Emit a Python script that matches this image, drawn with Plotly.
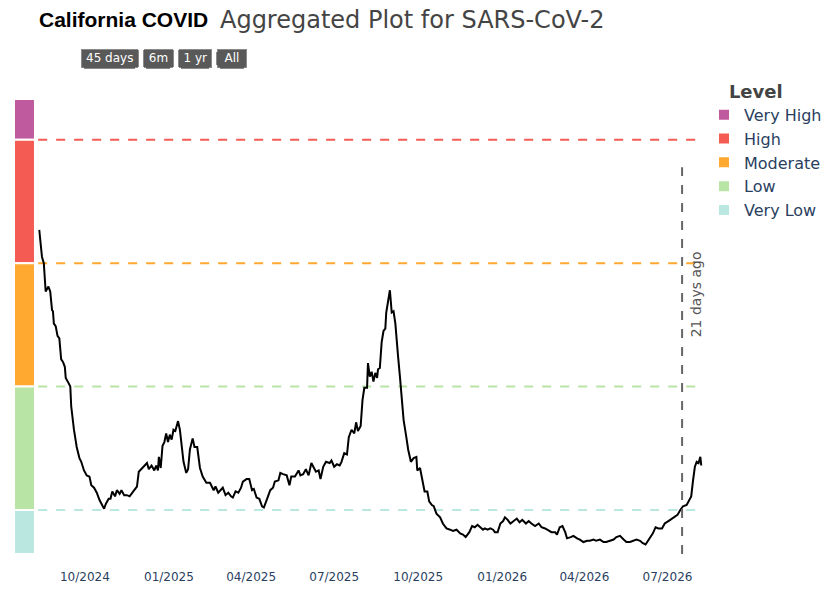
import plotly.graph_objects as go
import pandas as pd

# daily level index (days counted from START_DATE)
START_DATE = "2024-10-01"
DAY_OFFSETS = [
    -50, -47, -45, -44, -43, -40, -38, -36, -35, -34,
    -32, -30, -28, -26, -24, -22, -21, -18, -16, -15,
    -13, -12, -9, -6, -4, -1, 2, 5, 7, 10,
    13, 16, 21, 23, 26, 28, 30, 33, 35, 38,
    40, 43, 46, 49, 53, 57, 59, 64, 68, 70,
    73, 76, 78, 80, 81, 83, 85, 87, 89, 91,
    93, 95, 97, 99, 102, 104, 106, 108, 111, 113,
    115, 118, 120, 123, 126, 129, 133, 137, 141, 143,
    146, 149, 151, 154, 157, 160, 162, 165, 168, 171,
    173, 177, 180, 183, 185, 188, 191, 194, 196, 199,
    203, 206, 208, 212, 214, 217, 221, 224, 226, 230,
    234, 236, 239, 242, 245, 248, 250, 253, 256, 258,
    261, 264, 268, 270, 273, 276, 279, 281, 284, 287,
    289, 292, 295, 297, 299, 302, 304, 306, 309, 310,
    312, 314, 316, 318, 320, 321, 323, 325, 327, 329,
    330, 332, 334, 336, 338, 340, 341, 343, 345, 347,
    349, 352, 354, 357, 360, 363, 364, 367, 370, 372,
    375, 377, 380, 382, 385, 389, 392, 396, 400, 403,
    407, 411, 414, 417, 421, 424, 427, 430, 433, 436,
    438, 441, 444, 447, 449, 452, 455, 458, 460, 463,
    466, 469, 473, 476, 479, 483, 486, 489, 493, 497,
    500, 504, 507, 511, 515, 517, 520, 523, 526, 528,
    532, 535, 539, 542, 546, 550, 553, 557, 560, 564,
    568, 571, 575, 579, 582, 586, 590, 593, 597, 601,
    604, 608, 611, 614, 618, 622, 625, 628, 632, 635,
    639, 643, 646, 649, 652, 655, 659, 662, 664, 666,
    668, 670, 672, 674, 675,
]
LEVEL_VALUES = [
    3.27, 3.05, 3.00, 2.81, 2.77, 2.81, 2.77, 2.62, 2.61, 2.51,
    2.49, 2.41, 2.39, 2.22, 2.20, 2.16, 2.07, 2.03, 2.00, 1.84,
    1.69, 1.65, 1.51, 1.42, 1.39, 1.32, 1.28, 1.27, 1.20, 1.18,
    1.14, 1.08, 1.01, 1.05, 1.09, 1.09, 1.15, 1.11, 1.16, 1.13,
    1.16, 1.12, 1.12, 1.11, 1.15, 1.19, 1.31, 1.35, 1.38, 1.33,
    1.36, 1.32, 1.36, 1.32, 1.43, 1.34, 1.52, 1.55, 1.62, 1.55,
    1.61, 1.57, 1.65, 1.64, 1.72, 1.65, 1.51, 1.39, 1.30, 1.33,
    1.49, 1.58, 1.51, 1.51, 1.34, 1.27, 1.22, 1.22, 1.16, 1.19,
    1.14, 1.17, 1.18, 1.12, 1.14, 1.11, 1.10, 1.15, 1.14, 1.18,
    1.23, 1.25, 1.25, 1.16, 1.17, 1.10, 1.09, 1.03, 1.02, 1.08,
    1.16, 1.18, 1.23, 1.24, 1.30, 1.29, 1.28, 1.20, 1.27, 1.27,
    1.32, 1.28, 1.29, 1.33, 1.28, 1.38, 1.35, 1.31, 1.32, 1.25,
    1.35, 1.39, 1.38, 1.40, 1.35, 1.37, 1.36, 1.39, 1.46, 1.45,
    1.59, 1.65, 1.62, 1.71, 1.64, 1.68, 1.89, 1.99, 1.99, 2.19,
    2.08, 2.12, 2.04, 2.11, 2.07, 2.14, 2.15, 2.36, 2.45, 2.47,
    2.60, 2.70, 2.78, 2.60, 2.61, 2.51, 2.39, 2.24, 2.08, 1.89,
    1.73, 1.59, 1.49, 1.39, 1.42, 1.43, 1.32, 1.34, 1.24, 1.15,
    1.15, 1.07, 1.04, 1.03, 0.97, 0.94, 0.89, 0.85, 0.84, 0.83,
    0.84, 0.81, 0.80, 0.78, 0.82, 0.87, 0.86, 0.88, 0.86, 0.84,
    0.85, 0.84, 0.85, 0.84, 0.82, 0.82, 0.89, 0.91, 0.94, 0.92,
    0.89, 0.91, 0.93, 0.90, 0.92, 0.89, 0.91, 0.89, 0.87, 0.89,
    0.86, 0.85, 0.84, 0.82, 0.82, 0.80, 0.86, 0.87, 0.82, 0.77,
    0.78, 0.79, 0.77, 0.76, 0.74, 0.75, 0.75, 0.76, 0.75, 0.76,
    0.74, 0.74, 0.75, 0.76, 0.78, 0.79, 0.76, 0.74, 0.74, 0.75,
    0.76, 0.75, 0.73, 0.72, 0.76, 0.81, 0.86, 0.85, 0.85, 0.89,
    0.91, 0.93, 0.95, 0.96, 1.00, 1.03, 1.04, 1.08, 1.11, 1.24,
    1.35, 1.39, 1.38, 1.43, 1.36,
]

# level bands (top to bottom), lower / upper bound on the level scale
LEVEL_NAMES = ["Very High", "High", "Moderate", "Low", "Very Low"]
LEVEL_COLORS = ["#c05a9f", "#f45b53", "#ffa931", "#b8e4a6", "#bae7df"]
LEVEL_LOW = [4, 3, 2, 1, 0.643]
LEVEL_HIGH = [4.33, 4, 3, 2, 1]
# dashed threshold lines: value and colour of the band just below
THRESHOLDS = [4, 3, 2, 1]
THRESHOLD_COLORS = ["#f45b53", "#ffa931", "#b8e4a6", "#bae7df"]

LAG_DAYS = 21
X_RANGE = ["2024-08-10 19:00", "2026-08-10"]

dates = pd.Timestamp(START_DATE) + pd.to_timedelta(DAY_OFFSETS, unit="D")
lag_date = dates[-1] - pd.Timedelta(days=LAG_DAYS)

fig = go.Figure()

# level column on the left (separate little x axis)
for name, color, lo, hi in zip(LEVEL_NAMES, LEVEL_COLORS, LEVEL_LOW, LEVEL_HIGH):
    fig.add_trace(go.Bar(x=[0], y=[hi - lo], base=[lo], width=1, name=name,
                         marker=dict(color=color, line=dict(color="white", width=2)),
                         xaxis="x2", yaxis="y", hoverinfo="name"))

fig.add_trace(go.Scatter(x=dates, y=LEVEL_VALUES, mode="lines", showlegend=False,
                         line=dict(color="black", width=2), name="SARS-CoV-2"))

for val, color in zip(THRESHOLDS, THRESHOLD_COLORS):
    fig.add_shape(type="line", xref="x domain", yref="y", x0=0, x1=1, y0=val, y1=val,
                  line=dict(color=color, width=2, dash="dash"), layer="below")

fig.add_shape(type="line", xref="x", yref="y domain", x0=lag_date, x1=lag_date, y0=0, y1=0.85,
              line=dict(color="#666666", width=2, dash="dash"))
fig.add_annotation(x=lag_date, xref="x", xshift=14, y=0.571, yref="paper",
                   text=f"{LAG_DAYS} days ago", textangle=-90, showarrow=False,
                   xanchor="center", yanchor="middle",
                   font=dict(size=14, color="#555555"))

fig.add_annotation(x=0.0333, xref="paper", y=1.175, yref="paper", xanchor="left", yanchor="middle",
                   text="<b>California COVID</b>", showarrow=False,
                   font=dict(family="Liberation Sans", size=21, color="black"))

fig.update_layout(
    width=832, height=596, autosize=False,
    template="plotly_white",
    font=dict(family="DejaVu Sans", color="#2a3f5f"),
    margin=dict(l=6, r=136, t=91, b=50),
    title=dict(text="Aggregated Plot for SARS-CoV-2", x=0.2548, xref="container", xanchor="left",
               y=0.9799, yanchor="middle", font=dict(size=24, color="#444444")),
    barmode="overlay",
    showlegend=True,
    legend=dict(title=dict(text="\u00a0\u00a0\u00a0\u00a0<b>Level</b>",
                           font=dict(size=18, color="#444444")),
                font=dict(size=16), traceorder="normal",
                x=1.0, xanchor="left", y=1.054, yanchor="top"),
    xaxis=dict(domain=[0.035, 1], type="date", range=X_RANGE, showgrid=False, zeroline=False,
               tickformat="%m/%Y", dtick="M3", tick0="2024-10-01",
               ticks="outside", ticklen=12, tickcolor="rgba(0,0,0,0)",
               tickfont=dict(size=12),
               rangeselector=dict(
                   buttons=[dict(count=45, label="45 days", step="day", stepmode="backward"),
                            dict(count=6, label="6m", step="month", stepmode="backward"),
                            dict(count=1, label="1 yr", step="year", stepmode="backward"),
                            dict(step="all", label="All")],
                   x=0.0957, xanchor="left", y=1.07, yanchor="bottom",
                   bgcolor="#595959", activecolor="#595959", bordercolor="#8a8a8a", borderwidth=1,
                   font=dict(color="white", size=12))),
    xaxis2=dict(domain=[0, 0.0304], range=[-0.5, 0.5], visible=False, anchor="y"),
    yaxis=dict(range=[0.643, 4.33], showgrid=False, zeroline=False, showticklabels=False),
)

fig.write_html("out.html")
